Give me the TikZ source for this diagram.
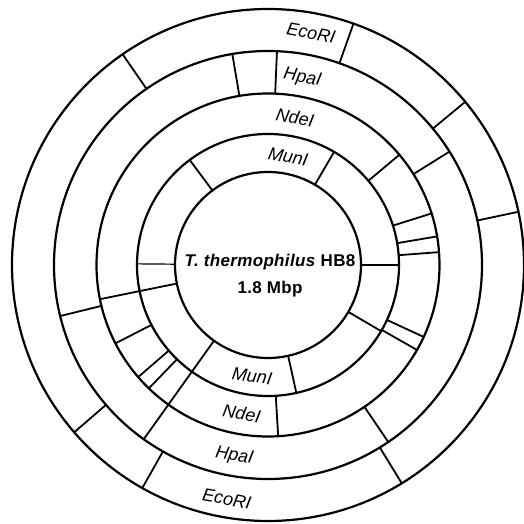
\documentclass[tikz,border=0pt]{standalone}
\usepackage{fontspec}
\setmainfont{Liberation Sans}
\newfontfamily\genomefont[LetterSpace=2]{Liberation Sans}
\usetikzlibrary{positioning}
\def\thickness{1.1pt}
\tikzset{
ring/.style={line width=\thickness},
cut/.style={line width=0.9pt},
enzyme/.style={font=\fontsize{9}{10}\selectfont\itshape, inner sep=0pt},
genome/.style={font=\fontsize{8.5}{10}\genomefont\bfseries, inner sep=0pt},
}

\begin{document}
\begin{tikzpicture}[x=0.5pt,y=0.5pt]
\useasboundingbox (-268,-259) rectangle (256,265);
%The five rings, outside to inside
\foreach \r in {256,214,171.5,131,93}
	\draw[ring] (0,0) circle (\r);

%Cuts in each ring
\foreach \a in {12,39.6,70.5,124.6,220.8,240.6,301.5}
	\draw[cut] (\a:214) -- (\a:256);
\foreach \a in {32,87.6,99.6,193.8,234.5,304.2}
	\draw[cut] (\a:171.5) -- (\a:214);
\foreach \a in {4.3,9.6,17.5,40,191.5,207.2,220.8,226,234.5,273.4,330.3,335.2}
	\draw[cut] (\a:131) -- (\a:171.5);
\foreach \a in {0,59.7,126.7,191.5,234.5,282.5,329.7}
	\draw[cut] (\a:93) -- (\a:131);
\draw[line width=0.6pt] (179.5:93) -- (179.5:131);

%Enzyme names
\node[enzyme, rotate=-10.5] (ecoTop) at (79.5:236) {EcoRI};
\node[enzyme, rotate=-10.5] (hpaTop) at (79.6:190) {HpaI};
\node[enzyme, rotate=-10.5] (ndeTop) at (79.6:150) {NdeI};
\node[enzyme, rotate=-10.5] (munTop) at (79.5:110) {MunI};
\node[enzyme, rotate=-8.2] (munBot) at (261.8:112) {MunI};
\node[enzyme, rotate=-10] (ndeBot) at (260:151) {NdeI};
\node[enzyme, rotate=-10] (hpaBot) at (260:194) {HpaI};
\node[enzyme, rotate=-10] (ecoBot) at (260:237.5) {EcoRI};

%Genome in the middle
\node[genome] (name) at (2,3) {\textit{T. thermophilus} HB8};
\node[genome, below=27 of name.center, anchor=center] (size) {1.8 Mbp};
\end{tikzpicture}
\end{document}
